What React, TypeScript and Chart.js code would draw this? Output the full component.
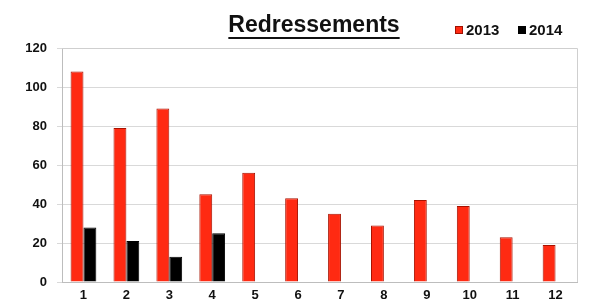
import React, { useEffect, useRef } from "react";
import { Chart, registerables } from "chart.js";

Chart.register(...registerables);

const categories = ["1", "2", "3", "4", "5", "6", "7", "8", "9", "10", "11", "12"];
const values2013 = [108, 79, 89, 45, 56, 43, 35, 29, 42, 39, 23, 19];
const values2014 = [28, 21, 13, 25, null, null, null, null, null, null, null, null];
const yTicks = [0, 20, 40, 60, 80, 100, 120];
const titleText = "Redressements";
const seriesNames = ["2013", "2014"];

const RED = "#ff2a12";
const BLACK = "#000000";

const overlayPlugin = {
  id: "overlay",
  afterDraw(chart: any) {
    const ctx = chart.ctx;
    ctx.save();
    ctx.fillStyle = "#111";
    ctx.font = "bold 23px 'Liberation Sans', Arial, sans-serif";
    ctx.textAlign = "center";
    ctx.textBaseline = "middle";
    const tx = 314;
    const ty = 26;
    ctx.fillText(titleText, tx, ty);
    const w = ctx.measureText(titleText).width;
    ctx.fillRect(tx - w / 2, 37, w, 2);

    ctx.font = "bold 15px 'Liberation Sans', Arial, sans-serif";
    ctx.textAlign = "left";
    const items = [
      { x: 455, color: RED, border: "#a01000" },
      { x: 518, color: BLACK, border: "#000" },
    ];
    items.forEach((it, i) => {
      ctx.fillStyle = it.color;
      ctx.fillRect(it.x, 26, 8, 8);
      ctx.strokeStyle = it.border;
      ctx.lineWidth = 1;
      ctx.strokeRect(it.x + 0.5, 26.5, 7, 7);
      ctx.fillStyle = "#111";
      ctx.textBaseline = "middle";
      ctx.fillText(seriesNames[i], it.x + 11, 31);
    });
    ctx.restore();
  },
};

export default function App() {
  const ref = useRef<HTMLCanvasElement | null>(null);
  useEffect(() => {
    if (!ref.current) return;
    const chart = new Chart(ref.current, {
      type: "bar",
      data: {
        labels: categories,
        datasets: [
          {
            label: seriesNames[0],
            data: values2013,
            backgroundColor: RED,
            borderColor: "#a81200",
            borderWidth: 1,
            barPercentage: 1,
            categoryPercentage: 0.6,
          },
          {
            label: seriesNames[1],
            data: values2014 as any,
            backgroundColor: BLACK,
            borderColor: "#000",
            borderWidth: 1,
            barPercentage: 1,
            categoryPercentage: 0.6,
          },
        ],
      },
      options: {
        responsive: false,
        animation: false,
        layout: { padding: { top: 48, right: 16, left: 0, bottom: 0 } },
        plugins: {
          legend: { display: false },
          title: { display: false },
          tooltip: { enabled: false },
        },
        scales: {
          x: {
            grid: { display: false, drawTicks: false },
            border: { color: "#bdbdbd", width: 1 },
            ticks: {
              color: "#111",
              font: { family: "'Liberation Sans', Arial, sans-serif", size: 13, weight: "bold" },
              padding: 6,
              maxRotation: 0,
            },
            afterFit: (s: any) => {
              s.height = 23;
            },
          },
          y: {
            min: 0,
            max: 120,
            afterBuildTicks: (s: any) => {
              s.ticks = yTicks.map((v) => ({ value: v }));
            },
            grid: { color: "#d9d9d9", lineWidth: 1, drawTicks: true, tickLength: 5, tickColor: "#d9d9d9" },
            border: { color: "#bdbdbd", width: 1 },
            ticks: {
              color: "#111",
              font: { family: "'Liberation Sans', Arial, sans-serif", size: 13, weight: "bold" },
              padding: 10,
            },
            afterFit: (s: any) => {
              s.width = 62;
            },
          },
        },
      },
      plugins: [
        overlayPlugin,
        {
          id: "frame",
          afterDraw(chart: any) {
            const { ctx, chartArea } = chart;
            ctx.save();
            ctx.strokeStyle = "#cfcfcf";
            ctx.lineWidth = 1;
            ctx.beginPath();
            ctx.moveTo(chartArea.left, Math.round(chartArea.top) + 0.5);
            ctx.lineTo(Math.round(chartArea.right) + 0.5, Math.round(chartArea.top) + 0.5);
            ctx.lineTo(Math.round(chartArea.right) + 0.5, chartArea.bottom);
            ctx.stroke();
            ctx.restore();
          },
        },
      ],
    } as any);
    return () => chart.destroy();
  }, []);
  return (
    <div style={{ position: "fixed", left: 0, top: 0, width: 593, height: 305, background: "#fff" }}>
      <canvas ref={ref} width={593} height={305} style={{ width: 593, height: 305 }} />
    </div>
  );
}
